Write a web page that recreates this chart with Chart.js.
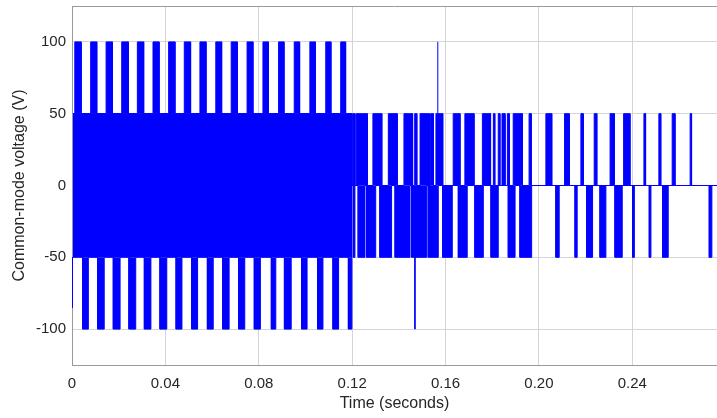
<!DOCTYPE html>
<html>
<head>
<meta charset="utf-8">
<script src="https://cdn.jsdelivr.net/npm/chart.js@4.4.1/dist/chart.umd.min.js"></script>
<style>
  html, body { margin: 0; padding: 0; background: #ffffff; }
  #wrap { width: 717px; height: 418px; }
</style>
</head>
<body>
<div id="wrap"><canvas id="cmv-chart" width="717" height="418"></canvas></div>
<script>
const xTicks = [0, 0.04, 0.08, 0.12, 0.16, 0.2, 0.24];
const xTickLabels = ["0", "0.04", "0.08", "0.12", "0.16", "0.20", "0.24"];
const yTicks = [-100, -50, 0, 50, 100];
const yTickLabels = ["-100", "-50", "0", "50", "100"];
const tEnd = 0.2763;

// 0 - 0.12 s : band switching between -50 and +50, pulses out to +/-100
const coreStart = 0.0004;
const coreEnd = 0.12;
const topPulseStart = [
  0.0012, 0.008, 0.0146, 0.0213, 0.028, 0.0347, 0.0414, 0.0481, 0.0548,
  0.0616, 0.0682, 0.075, 0.0818, 0.0885, 0.0952, 0.1019, 0.1087, 0.1151,
];
const topPulseEnd = [
  0.0039, 0.0106, 0.0173, 0.0241, 0.0307, 0.0373, 0.0441, 0.0508, 0.0574,
  0.0641, 0.0708, 0.0775, 0.0841, 0.0908, 0.0975, 0.1042, 0.1109, 0.1172,
];
const bottomPulseStart = [
  0.0046, 0.011, 0.0177, 0.0244, 0.031, 0.0377, 0.0446, 0.0513, 0.058,
  0.0646, 0.0714, 0.0781, 0.0854, 0.091, 0.0984, 0.1052, 0.1118, 0.1184,
];
const bottomPulseEnd = [
  0.007, 0.0138, 0.0206, 0.0273, 0.0338, 0.0406, 0.0471, 0.0538, 0.0605,
  0.0673, 0.074, 0.0807, 0.0873, 0.0939, 0.1007, 0.1075, 0.1142, 0.1199,
];

// after 0.12 s : signal rests at 0 with pulses up to +50 and down to -50
const upperPulseStart = [
  0.1202, 0.1217, 0.1289, 0.1355, 0.1422, 0.1468, 0.1491, 0.1536, 0.1559,
  0.1633, 0.1683, 0.1758, 0.1805, 0.1826, 0.1842, 0.1865, 0.189, 0.1958,
  0.203, 0.211, 0.218, 0.2237, 0.2305, 0.2363, 0.245, 0.2514, 0.2571, 0.2648,
];
const upperPulseEnd = [
  0.1212, 0.1265, 0.1327, 0.1393, 0.1459, 0.1477, 0.1531, 0.1548, 0.1588,
  0.1662, 0.1722, 0.1793, 0.1811, 0.1833, 0.1855, 0.1873, 0.1929, 0.1967,
  0.2055, 0.213, 0.219, 0.2248, 0.2323, 0.239, 0.2457, 0.2522, 0.2583, 0.2654,
];
const lowerPulseStart = [
  0.1205, 0.1226, 0.1262, 0.1319, 0.1384, 0.1455, 0.1526, 0.1588, 0.1655,
  0.1726, 0.1795, 0.1869, 0.1919, 0.2073, 0.2155, 0.2205, 0.2262, 0.2326,
  0.2402, 0.2473, 0.253, 0.273,
];
const lowerPulseEnd = [
  0.1212, 0.1255, 0.1301, 0.1369, 0.1448, 0.1519, 0.1569, 0.1629, 0.1693,
  0.1762, 0.1826, 0.1898, 0.1969, 0.2087, 0.2164, 0.223, 0.2287, 0.2357,
  0.2409, 0.248, 0.2554, 0.2741,
];

// isolated spikes
const spikeTime = [0.0002, 0.1469, 0.1567];
const spikeFrom = [-50, -50, 50];
const spikeTo = [-85, -100, 100];

const blue = "#0000ff";
const textColor = "#262626";
const gridColor = "#d4d4d4";
const axisColor = "#9a9a9a";

function pulseTrain(starts, ends, base, level, from, to) {
  const points = [{ x: from, y: base }];
  starts.forEach((start, i) => {
    points.push(
      { x: start, y: base },
      { x: start, y: level },
      { x: ends[i], y: level },
      { x: ends[i], y: base },
    );
  });
  points.push({ x: to, y: base });
  return points;
}

function spikePoints() {
  const points = [];
  spikeTime.forEach((t, i) => {
    points.push({ x: t, y: spikeFrom[i] }, { x: t, y: spikeTo[i] }, { x: t, y: null });
  });
  return points;
}

function series(data, base) {
  return {
    data: data,
    borderColor: blue,
    backgroundColor: blue,
    borderWidth: 1,
    pointRadius: 0,
    tension: 0,
    fill: base === null ? false : { value: base },
  };
}

const frameTop = {
  id: "frameTop",
  afterDraw(chart) {
    const { ctx, chartArea } = chart;
    ctx.save();
    ctx.strokeStyle = axisColor;
    ctx.lineWidth = 1;
    ctx.beginPath();
    ctx.moveTo(chartArea.left, chartArea.top + 0.5);
    ctx.lineTo(chartArea.right, chartArea.top + 0.5);
    ctx.stroke();
    ctx.restore();
  },
};

const tickFont = { family: "'Liberation Sans', Arial, sans-serif", size: 15 };
const titleFont = { family: "'Liberation Sans', Arial, sans-serif", size: 16 };

const ctx = document.getElementById("cmv-chart").getContext("2d");
new Chart(ctx, {
  type: "line",
  data: {
    datasets: [
      series([{ x: coreStart, y: 50 }, { x: coreEnd, y: 50 }], -50),
      series(pulseTrain(topPulseStart, topPulseEnd, 50, 100, coreStart, coreEnd), 50),
      series(pulseTrain(bottomPulseStart, bottomPulseEnd, -50, -100, coreStart, coreEnd), -50),
      series(pulseTrain(upperPulseStart, upperPulseEnd, 0, 50, coreEnd, tEnd), 0),
      series(pulseTrain(lowerPulseStart, lowerPulseEnd, 0, -50, coreEnd, tEnd), 0),
      series(spikePoints(), null),
    ],
  },
  options: {
    responsive: false,
    animation: false,
    layout: { padding: { top: 6, left: 0, right: 0, bottom: 0 } },
    plugins: {
      legend: { display: false },
      tooltip: { enabled: false },
    },
    scales: {
      x: {
        type: "linear",
        min: 0,
        max: tEnd,
        afterBuildTicks: (scale) => {
          scale.ticks = xTicks.map((v) => ({ value: v }));
        },
        afterFit: (scale) => {
          scale.height = 53;
          scale.paddingLeft = 0;
          scale.paddingRight = 0;
        },
        ticks: {
          callback: (value, index) => xTickLabels[index],
          color: textColor,
          font: tickFont,
          padding: 10,
          maxRotation: 0,
          autoSkip: false,
        },
        grid: { color: gridColor, drawTicks: false },
        border: { color: axisColor },
        title: {
          display: true,
          text: "Time (seconds)",
          color: textColor,
          font: titleFont,
          padding: { top: 0, bottom: 5 },
        },
      },
      y: {
        min: -125,
        max: 125,
        afterBuildTicks: (scale) => {
          scale.ticks = yTicks.map((v) => ({ value: v }));
        },
        afterFit: (scale) => {
          scale.width = 72;
          scale.paddingTop = 0;
          scale.paddingBottom = 0;
        },
        ticks: {
          callback: (value, index) => yTickLabels[index],
          color: textColor,
          font: tickFont,
          padding: 6,
        },
        grid: { color: gridColor, drawTicks: false },
        border: { color: axisColor },
        title: {
          display: true,
          text: "Common-mode voltage (V)",
          color: textColor,
          font: titleFont,
          padding: { top: 10, bottom: 0 },
        },
      },
    },
  },
  plugins: [frameTop],
});
</script>
</body>
</html>
